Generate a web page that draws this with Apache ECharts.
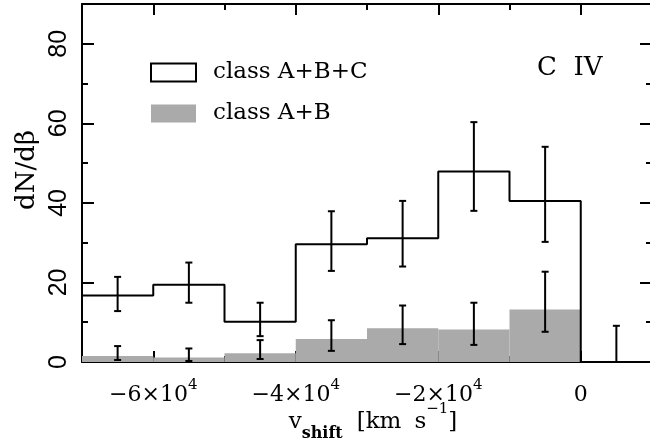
<!DOCTYPE html>
<html>
<head>
<meta charset="utf-8">
<script src="https://cdn.jsdelivr.net/npm/echarts@6/dist/echarts.min.js"></script>
<style>
html,body{margin:0;padding:0;background:#fff;}
#chart{width:650px;height:440px;}
</style>
</head>
<body>
<div id="chart"></div>
<script>
// ---- data ----
const binLeftEdges = [-70000, -60000, -50000, -40000, -30000, -20000, -10000];
const binWidth = 10000;
const allCounts   = [16.7, 19.4, 10.1, 29.6, 31.1, 47.9, 40.5];   // class A+B+C
const allErrLow   = [12.8, 14.9, 6.5, 22.9, 24.0, 38.0, 30.2];
const allErrHigh  = [21.4, 25.0, 14.9, 37.9, 40.5, 60.3, 54.1];
const abCounts    = [1.5, 1.1, 2.2, 5.8, 8.5, 8.2, 13.2];         // class A+B
const abErrLow    = [0.5, 0.25, 0.75, 2.8, 4.5, 4.3, 7.6];
const abErrHigh   = [4.0, 3.4, 5.5, 10.5, 14.2, 14.9, 22.7];
const emptyBinCenter = [5000];
const emptyBinLow  = [0];
const emptyBinHigh = [9.1];

const xTickValues   = [-60000, -40000, -20000, 0];
const xTickMantissa = ['\u22126\u00d710', '\u22124\u00d710', '\u22122\u00d710', '0'];
const xTickExponent = ['4', '4', '4', ''];
const yTickValues   = [0, 20, 40, 60, 80];

const seriesNames = ['class A+B+C', 'class A+B'];
const panelLabel = 'C  IV';

// ---- derived structures ----
const stepAll = binLeftEdges.map((x, i) => [x, allCounts[i]]);
stepAll.push([binLeftEdges[binLeftEdges.length - 1] + binWidth, allCounts[allCounts.length - 1]]);
stepAll.push([binLeftEdges[binLeftEdges.length - 1] + binWidth, 0]);

const abBins = binLeftEdges.map((x, i) => [x, x + binWidth, abCounts[i]]);
const errAll = binLeftEdges.map((x, i) => [x + binWidth / 2, allErrLow[i], allErrHigh[i]]);
const errAB  = binLeftEdges.map((x, i) => [x + binWidth / 2, abErrLow[i], abErrHigh[i]]);
const errEmpty = emptyBinCenter.map((x, i) => [x, emptyBinLow[i], emptyBinHigh[i]]);

const SERIF = 'DejaVu Serif';
const SANS = 'Liberation Sans';

function errRender(params, api) {
  const x = api.value(0);
  const p1 = api.coord([x, api.value(2)]);
  const p2 = api.coord([x, api.value(1)]);
  const hw = 3.5;
  const st = {stroke: '#000', lineWidth: 2};
  return {
    type: 'group',
    children: [
      {type: 'line', shape: {x1: p1[0], y1: p1[1], x2: p2[0], y2: p2[1]}, style: st},
      {type: 'line', shape: {x1: p1[0] - hw, y1: p1[1], x2: p1[0] + hw, y2: p1[1]}, style: st},
      {type: 'line', shape: {x1: p2[0] - hw, y1: p2[1], x2: p2[0] + hw, y2: p2[1]}, style: st}
    ]
  };
}

function rectRender(params, api) {
  const a = api.coord([api.value(0), api.value(2)]);
  const b = api.coord([api.value(1), 0]);
  return {
    type: 'rect',
    shape: {x: a[0], y: a[1], width: b[0] - a[0], height: b[1] - a[1]},
    style: {fill: '#aaaaaa'}
  };
}

const XMIN = -70000, XMAX = 10000, YMIN = 0, YMAX = 90;

function xAx(pos, major, extra) {
  return Object.assign({
    type: 'value', position: pos, min: XMIN, max: XMAX,
    splitLine: {show: false},
    axisLine: {show: major, onZero: false, lineStyle: {color: '#000', width: 2}},
    axisTick: major ? {inside: true, length: 11, customValues: xTickValues, lineStyle: {color: '#000', width: 2}}
                    : {inside: true, length: 6, lineStyle: {color: '#000', width: 2}},
    axisLabel: {show: false}
  }, extra || {});
}
function yAx(pos, major, extra) {
  return Object.assign({
    type: 'value', position: pos, min: YMIN, max: YMAX,
    interval: major ? 20 : 10,
    splitLine: {show: false},
    axisLine: {show: major, onZero: false, lineStyle: {color: '#000', width: 2}},
    axisTick: {inside: true, length: major ? 12 : 6, lineStyle: {color: '#000', width: 2}},
    axisLabel: {show: false}
  }, extra || {});
}

const option = {
  backgroundColor: '#fff',
  animation: false,
  grid: {left: 82, right: -2, top: 4, bottom: 78, containLabel: false, outerBoundsMode: 'none'},
  title: {
    text: panelLabel, left: 537, top: 55, padding: 0,
    textStyle: {fontFamily: SERIF, fontSize: 26, fontWeight: 'normal', color: '#000'}
  },
  legend: {
    orient: 'vertical', left: 150, top: 61, padding: 0,
    itemWidth: 45, itemHeight: 18, itemGap: 18,
    textStyle: {fontFamily: SERIF, fontSize: 23, color: '#000', padding: [0, 0, 0, 12], lineHeight: 18},
    data: [
      {name: seriesNames[0], icon: 'rect', itemStyle: {color: '#fff', borderColor: '#000', borderWidth: 2}},
      {name: seriesNames[1], icon: 'rect', itemStyle: {color: '#aaaaaa', borderWidth: 0}}
    ]
  },
  xAxis: [
    xAx('bottom', true, {
      name: '{v|v}{sub|shift}{m|[km}{m2|s}{sup|\u22121}{m|]}',
      nameLocation: 'middle', nameGap: 40, nameMoveOverlap: false,
      nameTextStyle: {
        rich: {
          v: {fontFamily: SERIF, fontSize: 23, color: '#000', lineHeight: 40, verticalAlign: 'middle', padding: [0, 0, 0, 12]},
          m: {fontFamily: SERIF, fontSize: 23, color: '#000', lineHeight: 40, verticalAlign: 'middle'},
          m2: {fontFamily: SERIF, fontSize: 23, color: '#000', lineHeight: 40, verticalAlign: 'middle', padding: [0, 0, 0, 13]},
          sub: {fontFamily: SERIF, fontSize: 16, fontWeight: 'bold', color: '#000', lineHeight: 16, verticalAlign: 'bottom', padding: [0, 14, 0, 0]},
          sup: {fontFamily: SERIF, fontSize: 15, color: '#000', lineHeight: 20, verticalAlign: 'top'}
        }
      },
      axisLabel: {
        show: true, margin: 16, customValues: xTickValues,
        formatter: function (v) {
          const i = xTickValues.indexOf(v);
          if (i < 0) return '';
          return '{b|' + xTickMantissa[i] + '}' + (xTickExponent[i] ? '{s|' + xTickExponent[i] + '}' : '');
        },
        rich: {
          b: {fontFamily: SERIF, fontSize: 22, color: '#000', lineHeight: 34, verticalAlign: 'middle'},
          s: {fontFamily: SERIF, fontSize: 15, color: '#000', lineHeight: 15, verticalAlign: 'top'}
        }
      }
    }),
    xAx('bottom', false, {interval: 10000}),
    xAx('top', true),
    xAx('top', false, {interval: 10000})
  ],
  yAxis: [
    yAx('left', true, {
      name: 'dN/d\u03b2', nameLocation: 'middle', nameGap: 42, nameMoveOverlap: false,
      nameTextStyle: {fontFamily: SERIF, fontSize: 26, color: '#000', padding: [0, 0, 0, 26]},
      axisLabel: {show: true, rotate: 90, margin: 10, fontFamily: SANS, fontSize: 25, color: '#000',
                  customValues: yTickValues}
    }),
    yAx('left', false),
    yAx('right', true),
    yAx('right', false)
  ],
  series: [
    {
      name: seriesNames[1], type: 'custom', renderItem: rectRender,
      xAxisIndex: 0, yAxisIndex: 0, encode: {x: [0, 1], y: 2},
      itemStyle: {color: '#aaaaaa'}, data: abBins, z: 1
    },
    {
      name: seriesNames[0], type: 'line', step: 'end', data: stepAll,
      xAxisIndex: 0, yAxisIndex: 0, symbol: 'none',
      lineStyle: {color: '#000', width: 2}, itemStyle: {color: '#fff', borderColor: '#000'}, z: 3
    },
    {
      name: 'errAll', type: 'custom', renderItem: errRender, data: errAll,
      xAxisIndex: 0, yAxisIndex: 0, encode: {x: 0, y: [1, 2]}, z: 4
    },
    {
      name: 'errAB', type: 'custom', renderItem: errRender, data: errAB,
      xAxisIndex: 0, yAxisIndex: 0, encode: {x: 0, y: [1, 2]}, z: 4
    },
    {
      name: 'errEmpty', type: 'custom', renderItem: errRender, data: errEmpty,
      xAxisIndex: 0, yAxisIndex: 0, encode: {x: 0, y: [1, 2]}, z: 4
    }
  ]
};

const chart = echarts.init(document.getElementById('chart'), null, {renderer: 'canvas'});
chart.setOption(option);
</script>
</body>
</html>
